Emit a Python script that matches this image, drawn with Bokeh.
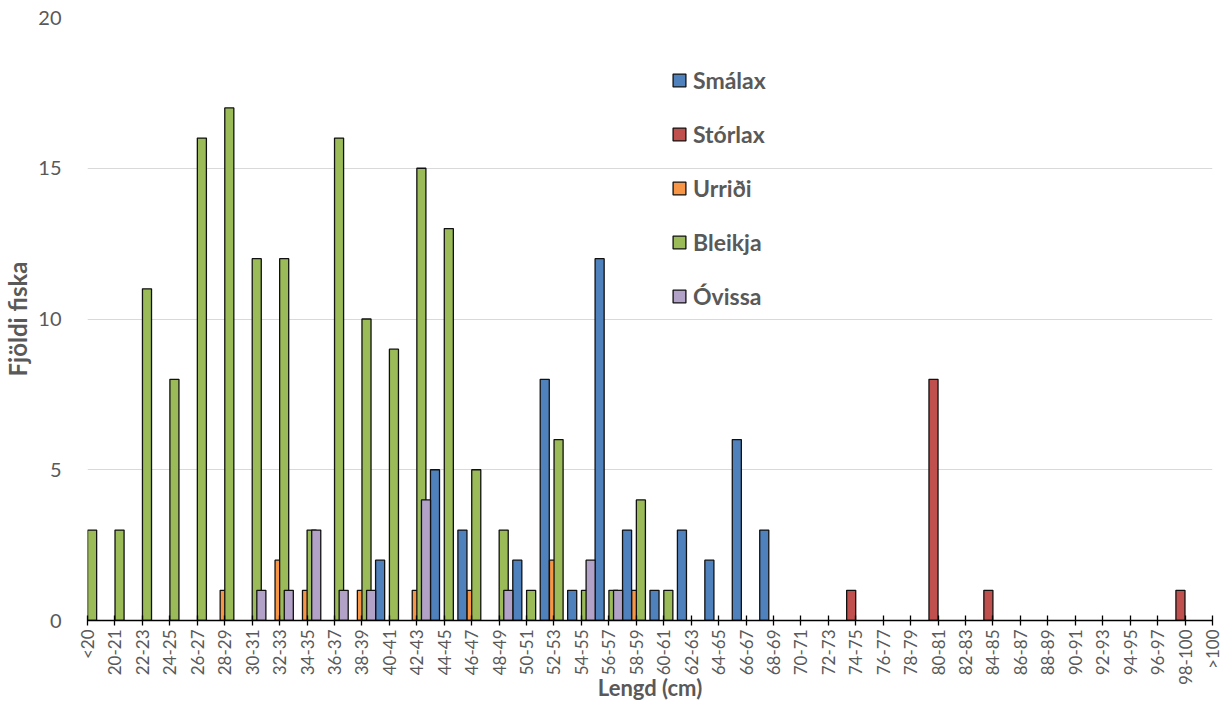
import math
from bokeh.plotting import figure
from bokeh.models import Range1d, FixedTicker, Legend, LegendItem, ColumnDataSource
from bokeh.transform import dodge
from bokeh.embed import file_html
from bokeh.resources import INLINE

categories = ["<20", "20-21", "22-23", "24-25", "26-27", "28-29", "30-31", "32-33", "34-35",
              "36-37", "38-39", "40-41", "42-43", "44-45", "46-47", "48-49", "50-51", "52-53",
              "54-55", "56-57", "58-59", "60-61", "62-63", "64-65", "66-67", "68-69", "70-71",
              "72-73", "74-75", "76-77", "78-79", "80-81", "82-83", "84-85", "86-87", "88-89",
              "90-91", "92-93", "94-95", "96-97", "98-100", ">100"]

smalax  = [0, 0, 0, 0, 0, 0, 0, 0, 0, 0, 0, 2, 0, 5, 3, 0, 2, 8, 1, 12, 3, 1, 3, 2, 6, 3,
           0, 0, 0, 0, 0, 0, 0, 0, 0, 0, 0, 0, 0, 0, 0, 0]
storlax = [0, 0, 0, 0, 0, 0, 0, 0, 0, 0, 0, 0, 0, 0, 0, 0, 0, 0, 0, 0, 0, 0, 0, 0, 0, 0,
           0, 0, 1, 0, 0, 8, 0, 1, 0, 0, 0, 0, 0, 0, 1, 0]
urridi  = [0, 0, 0, 0, 0, 1, 0, 2, 1, 0, 1, 0, 1, 0, 1, 0, 0, 2, 0, 0, 1, 0, 0, 0, 0, 0,
           0, 0, 0, 0, 0, 0, 0, 0, 0, 0, 0, 0, 0, 0, 0, 0]
bleikja = [3, 3, 11, 8, 16, 17, 12, 12, 3, 16, 10, 9, 15, 13, 5, 3, 1, 6, 1, 1, 4, 1, 0, 0, 0, 0,
           0, 0, 0, 0, 0, 0, 0, 0, 0, 0, 0, 0, 0, 0, 0, 0]
ovissa  = [0, 0, 0, 0, 0, 0, 1, 1, 3, 1, 1, 0, 4, 0, 0, 1, 0, 0, 2, 1, 0, 0, 0, 0, 0, 0,
           0, 0, 0, 0, 0, 0, 0, 0, 0, 0, 0, 0, 0, 0, 0, 0]

series_names = ["Smálax", "Stórlax", "Urriði", "Bleikja", "Óvissa"]
series_values = [smalax, storlax, urridi, bleikja, ovissa]
colors = ["#4F81BD", "#C0504D", "#F79646", "#9BBB59", "#B3A2C7"]

FONT = "Lato"
GREY = "#595959"

p = figure(width=1226, height=725, x_range=Range1d(0, len(categories) - 1), y_range=Range1d(0, 20),
           output_backend="svg", toolbar_location=None,
           min_border_left=87, min_border_right=14, min_border_top=17, min_border_bottom=105)
p.outline_line_color = None
p.background_fill_color = "white"

bar_w = 0.33
step = 0.168
items = []
for i, (name, vals, col) in enumerate(zip(series_names, series_values, colors)):
    idx = [k for k, v in enumerate(vals) if v > 0]
    src = ColumnDataSource(dict(x=idx, top=[vals[k] for k in idx]))
    r = p.vbar(x=dodge("x", (i - 2) * step, range=p.x_range), top="top", bottom=0, width=bar_w,
               source=src, fill_color=col, line_color="#111111", line_width=1.3)
    items.append(LegendItem(label=name, renderers=[r]))

legend = Legend(items=items, location=(584, 309), orientation="vertical",
                glyph_width=16, glyph_height=16, label_height=30, spacing=24,
                label_standoff=6, padding=0, margin=0,
                border_line_color=None, background_fill_alpha=0,
                label_text_font=FONT, label_text_font_style="bold",
                label_text_font_size="23px", label_text_color=GREY)
p.add_layout(legend, "center")

# x axis
p.xgrid.grid_line_color = None
p.xaxis.ticker = FixedTicker(ticks=list(range(len(categories))))
p.xaxis.major_label_overrides = {k: c for k, c in enumerate(categories)}
p.xaxis.major_label_orientation = math.pi / 2
p.xaxis.major_label_text_font = FONT
p.xaxis.major_label_text_font_size = "17px"
p.xaxis.major_label_text_color = GREY
p.xaxis.major_label_standoff = 4
p.xaxis.axis_line_color = "black"
p.xaxis.axis_line_width = 1.5
p.xaxis.major_tick_line_color = "black"
p.xaxis.major_tick_line_width = 1.3
p.xaxis.major_tick_in = 5
p.xaxis.major_tick_out = 5
p.xaxis.minor_tick_line_color = None
p.xaxis.axis_label = "Lengd (cm)"
p.xaxis.axis_label_text_font = FONT
p.xaxis.axis_label_text_font_style = "bold"
p.xaxis.axis_label_text_font_size = "22px"
p.xaxis.axis_label_text_color = GREY
p.xaxis.axis_label_standoff = -14

# y axis
p.yaxis.ticker = FixedTicker(ticks=[0, 5, 10, 15, 20])
p.yaxis.axis_line_color = None
p.yaxis.major_tick_line_color = None
p.yaxis.minor_tick_line_color = None
p.yaxis.major_label_text_font = FONT
p.yaxis.major_label_text_font_size = "20px"
p.yaxis.major_label_text_color = GREY
p.yaxis.major_label_standoff = 20
p.yaxis.axis_label = "Fjöldi fiska"
p.yaxis.axis_label_text_font = FONT
p.yaxis.axis_label_text_font_style = "bold"
p.yaxis.axis_label_text_font_size = "24px"
p.yaxis.axis_label_text_color = GREY
p.yaxis.axis_label_standoff = 3
p.ygrid.grid_line_color = "#D9D9D9"
p.ygrid.grid_line_width = 1.2

open("out.html", "w").write(file_html(p, INLINE))
